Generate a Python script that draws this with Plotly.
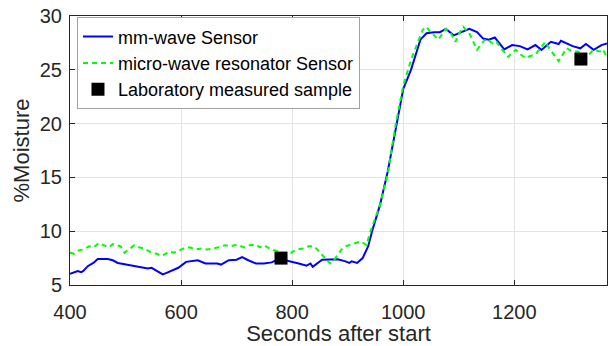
import plotly.graph_objects as go

# mm-wave sensor (blue, solid)
time_mm = [400, 414, 420, 424, 432, 442, 450, 463, 468, 477, 486, 491, 504, 512, 522, 526, 540, 547, 558,
           567, 574, 595, 609, 630, 644, 665, 672, 686, 700, 710, 721, 735, 749, 763, 780, 795, 812, 826,
           833, 837, 854, 868, 882, 896, 903, 907, 917, 927, 937, 944, 958, 972, 986, 1000, 1014, 1021,
           1031, 1042, 1056, 1066, 1077, 1091, 1105, 1119, 1133, 1144, 1154, 1165, 1182, 1196, 1210,
           1224, 1238, 1249, 1266, 1280, 1284, 1305, 1319, 1329, 1343, 1357, 1367]
moist_mm = [6.04, 6.29, 6.2, 6.3, 6.75, 7.05, 7.42, 7.45, 7.42, 7.3, 7.05, 7.0, 6.87, 6.8, 6.66, 6.65, 6.53,
            6.6, 6.29, 5.98, 6.13, 6.6, 7.15, 7.3, 7.0, 7.0, 6.9, 7.3, 7.35, 7.6, 7.3, 7.0, 7.0, 7.1, 7.5,
            7.2, 7.0, 6.8, 7.0, 6.7, 7.35, 7.4, 7.4, 7.2, 7.05, 7.2, 7.05, 7.5, 8.6, 10.0, 12.4, 15.5, 19.3,
            23.2, 25.0, 26.1, 27.8, 28.4, 28.5, 28.5, 28.8, 28.2, 28.5, 28.8, 28.5, 27.9, 27.8, 28.0, 26.9,
            27.3, 27.2, 26.9, 27.3, 26.85, 27.6, 27.4, 27.7, 27.2, 27.0, 27.4, 26.85, 27.3, 27.45]

# micro-wave resonator sensor (green, dashed)
time_mw = [400, 407, 414, 424, 435, 443, 452, 463, 470, 477, 484, 491, 498, 506, 516, 524, 533, 540, 547,
           556, 565, 572, 579, 587, 595, 605, 616, 626, 637, 647, 658, 668, 679, 690, 700, 707, 714, 724,
           735, 742, 749, 756, 763, 770, 777, 788, 798, 808, 819, 830, 840, 847, 854, 861, 868, 875, 882,
           889, 896, 903, 910, 917, 924, 934, 941, 958, 972, 986, 1000, 1014, 1028, 1035, 1042, 1049,
           1056, 1063, 1070, 1077, 1085, 1094, 1101, 1108, 1119, 1126, 1133, 1142, 1150, 1161, 1168,
           1178, 1189, 1196, 1203, 1212, 1221, 1230, 1238, 1247, 1256, 1263, 1270, 1280, 1287, 1294,
           1305, 1315, 1322, 1329, 1336, 1343, 1354, 1360, 1366]
moist_mw = [8.0, 7.9, 8.2, 8.3, 8.6, 8.5, 8.9, 8.7, 8.5, 8.8, 8.7, 8.6, 8.0, 8.3, 8.7, 8.5, 8.4, 8.2, 8.0,
            7.9, 7.7, 7.9, 8.1, 8.0, 8.2, 8.4, 8.5, 8.3, 8.4, 8.3, 8.4, 8.5, 8.7, 8.6, 8.75, 8.6, 8.5,
            8.7, 8.75, 8.5, 8.7, 8.5, 8.3, 8.2, 8.1, 7.9, 8.0, 8.3, 8.4, 8.6, 8.6, 8.2, 7.8, 7.3, 7.0,
            7.3, 7.8, 8.3, 8.6, 8.7, 8.8, 8.9, 9.05, 8.7, 10.0, 12.4, 15.3, 19.8, 23.5, 25.9, 27.9, 28.7,
            29.0, 28.5, 28.2, 27.8, 28.3, 28.8, 28.5, 27.6, 28.4, 29.0, 28.4, 27.6, 26.85, 27.5, 27.9,
            27.45, 27.6, 26.9, 26.2, 26.6, 26.85, 26.4, 26.1, 26.3, 26.4, 27.0, 27.6, 27.0, 26.5, 25.8,
            26.4, 27.0, 26.7, 26.7, 26.4, 26.1, 26.5, 26.85, 26.7, 26.9, 26.2]

# laboratory samples
lab_time = [780, 1320]
lab_moist = [7.5, 26.0]

xticks = [400, 600, 800, 1000, 1200]
yticks = [5, 10, 15, 20, 25, 30]

FONT = "Liberation Sans, Arial, sans-serif"
AX = "#262626"

fig = go.Figure()
fig.add_trace(go.Scatter(x=time_mm, y=moist_mm, mode="lines", name="mm-wave Sensor",
                         line=dict(color="#0000ff", width=2)))
fig.add_trace(go.Scatter(x=time_mw, y=moist_mw, mode="lines", name="micro-wave resonator Sensor",
                         line=dict(color="#00ff00", width=2, dash="5px,4px")))
fig.add_trace(go.Scatter(x=lab_time, y=lab_moist, mode="markers", name="Laboratory measured sample",
                         marker=dict(symbol="square", size=13, color="black")))

axis_common = dict(showline=True, linecolor=AX, linewidth=1, mirror="ticks", ticks="inside",
                   ticklen=5, tickcolor=AX, showgrid=True, gridcolor="#e3e3e3", gridwidth=1,
                   zeroline=False, tickfont=dict(size=20, color=AX, family=FONT))

fig.update_layout(
    width=610, height=346,
    margin=dict(l=70, r=2, t=16, b=59),
    paper_bgcolor="white", plot_bgcolor="white",
    font=dict(family=FONT, color=AX),
    xaxis=dict(range=[400, 1367], tickvals=xticks, ticktext=[str(v) for v in xticks],
               ticklabelstandoff=9,
               title=dict(text="Seconds after start", font=dict(size=22, color=AX), standoff=6),
               **axis_common),
    yaxis=dict(range=[5, 30], tickvals=yticks, ticktext=[str(v) for v in yticks],
               ticklabelstandoff=3,
               title=dict(text="%Moisture", font=dict(size=22, color=AX), standoff=4),
               **axis_common),
    legend=dict(x=0.013, y=0.995, xanchor="left", yanchor="top", bgcolor="white",
                bordercolor="#a0a0a0", borderwidth=1, font=dict(size=18, color="black", family=FONT),
                tracegroupgap=0, itemwidth=30),
    showlegend=True,
)

fig.write_html("out.html")
